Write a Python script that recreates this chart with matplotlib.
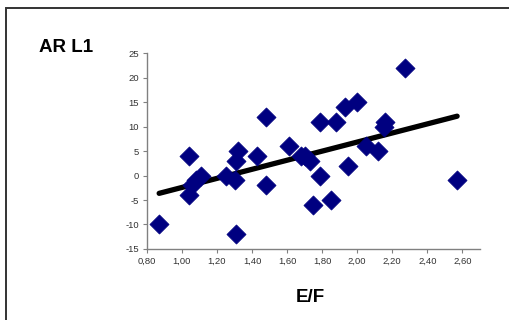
import numpy as np
import matplotlib
matplotlib.use('Agg')
import matplotlib.pyplot as plt
from matplotlib.patches import Rectangle

plt.rcParams['font.family'] = ['Liberation Sans', 'DejaVu Sans']
plt.rcParams['axes.unicode_minus'] = False

# E/F vs AR L1 scatter values
ef = [0.87, 1.04, 1.04, 1.06, 1.08, 1.11, 1.25, 1.30, 1.31, 1.31, 1.32,
      1.43, 1.48, 1.48, 1.61, 1.68, 1.70, 1.73, 1.75, 1.79, 1.79, 1.85,
      1.88, 1.93, 1.95, 2.00, 2.05, 2.12, 2.15, 2.16, 2.27, 2.57]
ar = [-10, 4, -4, -2, -1, 0, 0, -1, -12, 3, 5,
      4, 12, -2, 6, 4, 4, 3, -6, 11, 0, -5,
      11, 14, 2, 15, 6, 5, 10, 11, 22, -1]

x_ticks = [0.8, 1.0, 1.2, 1.4, 1.6, 1.8, 2.0, 2.2, 2.4, 2.6]
y_ticks = [-15, -10, -5, 0, 5, 10, 15, 20, 25]

fig = plt.figure(figsize=(5.1, 3.2), dpi=100)
ax = fig.add_axes([0.288, 0.222, 0.653, 0.612])

ax.scatter(ef, ar, marker='D', s=95, color='#000080', edgecolors='#000080',
           linewidths=0.5, zorder=3)

# linear trendline
k, b = np.polyfit(ef, ar, 1)
tx = np.array([min(ef), max(ef)])
ax.plot(tx, k * tx + b, color='black', lw=3.8, solid_capstyle='round', zorder=2)

ax.set_xlim(0.8, 2.7)
ax.set_ylim(-15, 25)
ax.set_xticks(x_ticks)
ax.set_xticklabels([f"{v:.2f}".replace('.', ',') for v in x_ticks])
ax.set_yticks(y_ticks)
ax.set_yticklabels([str(v) for v in y_ticks])
ax.tick_params(labelsize=6.8, colors='#333333', length=3, width=0.8, pad=2.5)
ax.tick_params(axis='both', color='#808080')

for s in ['top', 'right']:
    ax.spines[s].set_visible(False)
for s in ['left', 'bottom']:
    ax.spines[s].set_color('#808080')
    ax.spines[s].set_linewidth(1.0)

fig.text(0.129, 0.85, 'AR L1', fontsize=13.5, fontweight='bold', ha='center', va='center')
fig.text(0.608, 0.07, 'E/F', fontsize=13.5, fontweight='bold', ha='center', va='center')

# outer chart border
fig.patches.append(Rectangle((6 / 510, -0.1), 1.1, 1.1 - 8 / 320,
                             transform=fig.transFigure, fill=False,
                             edgecolor='#333333', lw=1.4))

fig.savefig('out.png', dpi=100)
